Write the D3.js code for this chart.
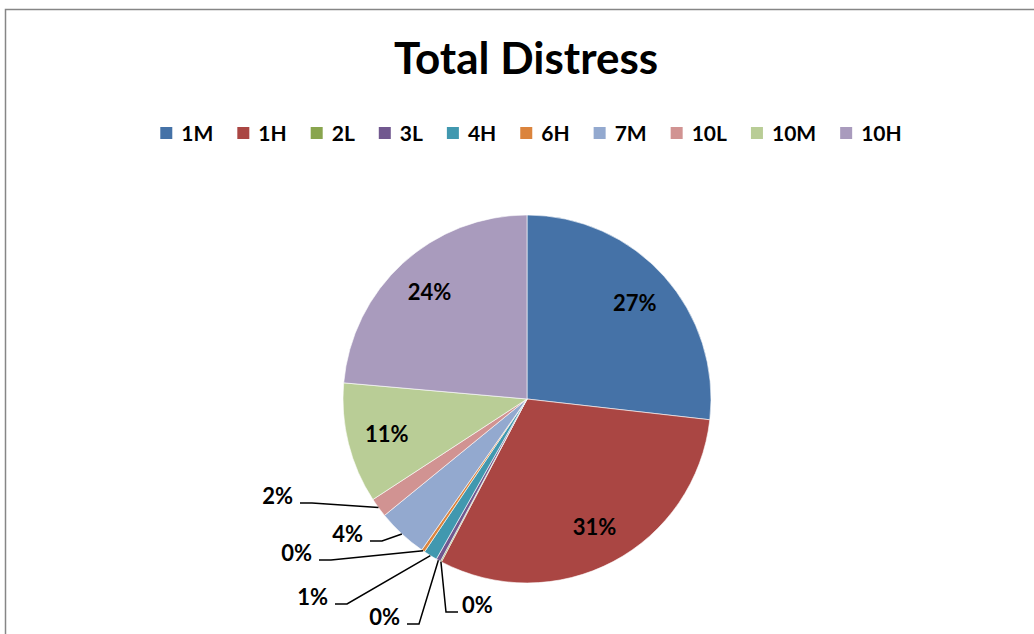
<!DOCTYPE html>
<html>
<head>
<meta charset="utf-8">
<script src="https://cdn.jsdelivr.net/npm/d3@7"></script>
<style>
  html, body { margin: 0; padding: 0; background: #fff; }
  svg { display: block; font-family: Lato, "Open Sans", sans-serif; }
</style>
</head>
<body>
<svg id="chart" width="1034" height="634"></svg>
<script>
// Share of total distress by condition group (percent)
const categories = ["1M", "1H", "2L", "3L", "4H", "6H", "7M", "10L", "10M", "10H"];
const shares     = [26.8, 30.9, 0.1, 0.4, 1.2, 0.3, 4.4, 1.7, 10.6, 23.6];
const colors     = ["#4572A7", "#AA4643", "#89A54E", "#71588F", "#4198AF",
                    "#DB843D", "#93A9CF", "#D19392", "#B9CD96", "#A99BBD"];
const chartTitle = "Total Distress";

// Callout placement for the narrow slices: label anchor relative to the pie centre,
// and which side of the leader the text sits on.
const calloutLayout = {
  "2L":  { dx: -65,  dy: 206, side: "right" },
  "3L":  { dx: -127, dy: 218, side: "left" },
  "4H":  { dx: -199, dy: 198, side: "left" },
  "6H":  { dx: -215, dy: 154, side: "left" },
  "7M":  { dx: -164, dy: 135, side: "left" },
  "10L": { dx: -234, dy: 97,  side: "left" }
};

const svg = d3.select("#chart");

// chart frame (runs off the right and bottom edges)
svg.append("rect")
  .attr("x", 5.5).attr("y", 9.5)
  .attr("width", 1200).attr("height", 800)
  .attr("fill", "#fff")
  .attr("stroke", "#868686").attr("stroke-width", 1.5);

// title
svg.append("text")
  .attr("x", 526).attr("y", 74)
  .attr("text-anchor", "middle")
  .attr("font-size", 44).attr("font-weight", 700)
  .attr("fill", "#000")
  .text(chartTitle);

// legend
const color = d3.scaleOrdinal().domain(categories).range(colors);
const legend = svg.append("g");
const legendFont = 21, sw = 12, gapText = 9, gapItem = 24;
let lx = 0;
categories.forEach(c => {
  const g = legend.append("g");
  g.append("rect").attr("x", 0).attr("y", -sw / 2).attr("width", sw).attr("height", sw)
    .attr("fill", color(c));
  const t = g.append("text").attr("x", sw + gapText).attr("y", 0).attr("dy", "0.36em")
    .attr("font-size", legendFont).attr("font-weight", 700).text(c);
  const w = sw + gapText + t.node().getComputedTextLength();
  g.attr("transform", `translate(${lx},0)`);
  lx += w + gapItem;
});
const legendWidth = lx - gapItem;
legend.attr("transform", `translate(${531 - legendWidth / 2},133)`);

// pie
const cx = 527, cy = 399, r = 184;
const total = d3.sum(shares);
const data = categories.map((c, i) => ({ name: c, value: shares[i] }));
const pie = d3.pie().sort(null).value(d => d.value);
const arcs = pie(data);
const arc = d3.arc().innerRadius(0).outerRadius(r);
const fmt = d3.format(".0%");

const gPie = svg.append("g").attr("transform", `translate(${cx},${cy})`);
gPie.selectAll("path.slice")
  .data(arcs)
  .join("path")
  .attr("class", "slice")
  .attr("d", arc)
  .attr("fill", d => color(d.data.name))
  .attr("stroke", "#fff")
  .attr("stroke-width", 0.6)
  .attr("stroke-linejoin", "round");

const labelFont = 22;
const inside = arcs.filter(d => !calloutLayout[d.data.name]);
const outside = arcs.filter(d => calloutLayout[d.data.name]);

// labels inside the large slices
const inArc = d3.arc().innerRadius(r * 0.785).outerRadius(r * 0.785);
gPie.selectAll("text.inlabel")
  .data(inside)
  .join("text")
  .attr("class", "inlabel")
  .attr("transform", d => `translate(${inArc.centroid(d)})`)
  .attr("text-anchor", "middle")
  .attr("dy", "0.36em")
  .attr("font-size", labelFont).attr("font-weight", 700)
  .text(d => fmt(d.data.value / total));

// callouts with leader lines for the narrow slices
const edgeArc = d3.arc().innerRadius(r).outerRadius(r);
outside.forEach(d => {
  const L = calloutLayout[d.data.name];
  const edge = edgeArc.centroid(d);
  const ly = L.dy + 7;
  const elbow = 12;
  let x0, x1, anchor;
  if (L.side === "left") {
    x0 = L.dx + 7; x1 = x0 + elbow; anchor = "end";
  } else {
    x0 = L.dx - 4; x1 = x0 - elbow; anchor = "start";
  }
  gPie.append("path")
    .attr("d", d3.line()([[x0, ly], [x1, ly], edge]))
    .attr("fill", "none")
    .attr("stroke", "#000")
    .attr("stroke-width", 1.5);
  gPie.append("text")
    .attr("x", L.dx).attr("y", L.dy)
    .attr("dy", "0.36em")
    .attr("text-anchor", anchor)
    .attr("font-size", labelFont).attr("font-weight", 700)
    .text(fmt(d.data.value / total));
});
</script>
</body>
</html>
